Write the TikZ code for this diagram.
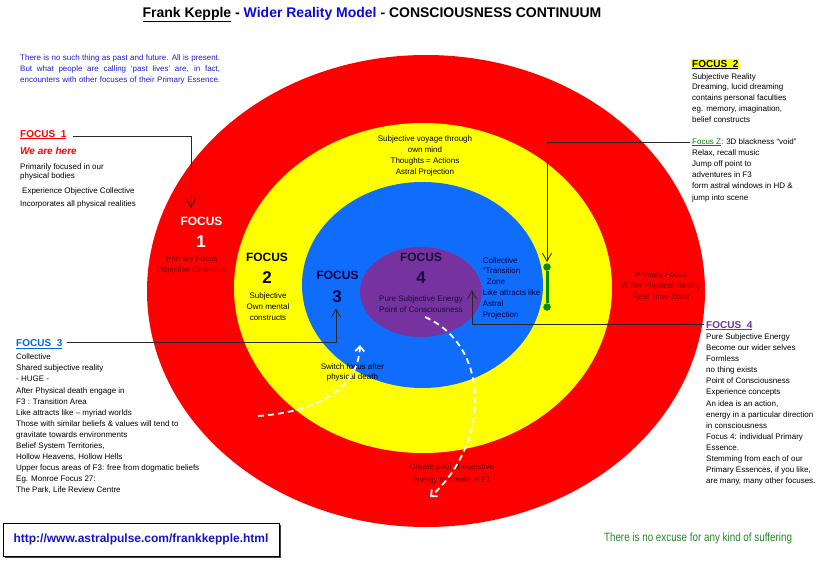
\documentclass[tikz,border=0pt]{standalone}
\usepackage{fontspec}
\setmainfont{Liberation Sans}
\newfontfamily\narrowfont[FakeStretch=0.82]{Liberation Sans}
\usetikzlibrary{arrows.meta,shadows}
\newcommand\fsz[2]{\fontsize{#1}{#2}\selectfont}
\definecolor{ringred}{RGB}{255,0,0}
\definecolor{ringyellow}{RGB}{255,255,0}
\definecolor{ringblue}{RGB}{16,108,250}
\definecolor{ringpurple}{RGB}{118,50,158}
\definecolor{titleblue}{RGB}{10,10,220}
\definecolor{parablue}{RGB}{30,30,210}
\definecolor{fthreeblue}{RGB}{0,102,221}
\definecolor{ffourpurple}{RGB}{112,48,160}
\definecolor{onred}{RGB}{115,0,0}
\definecolor{onblue}{RGB}{0,0,70}
\definecolor{onpurple}{RGB}{25,15,60}
\definecolor{fzgreen}{RGB}{0,128,0}
\definecolor{bargreen}{RGB}{0,140,0}
\definecolor{footgreen}{RGB}{34,139,34}
\definecolor{urlblue}{RGB}{20,20,200}
\definecolor{connc}{RGB}{40,40,40}
\tikzset{
  txt/.style={inner sep=0pt, font=\fsz{8}{11}, align=left, anchor=north west},
  ctr/.style={inner sep=0pt, font=\fsz{8}{11}, align=center, anchor=north},
  bigf/.style={inner sep=0pt, font=\fsz{12}{14}\bfseries, anchor=base},
  numf/.style={inner sep=0pt, font=\fsz{17}{19}\bfseries, anchor=base},
  labf/.style={inner sep=0pt, font=\fsz{10}{12}\bfseries, anchor=base west},
  conn/.style={draw=connc, line width=0.8pt},
  tipv/.style={-{Straight Barb[length=8pt,width=9pt]}},
  wdash/.style={draw=white, line width=1.8pt, dash pattern=on 6pt off 4pt,
     -{Straight Barb[length=5pt,width=9pt]}},
  gdot/.style={circle, fill=bargreen, minimum size=7.5pt, inner sep=0pt},
  gbar/.style={draw=bargreen, line width=3pt},
  urlbox/.style={draw=black, line width=0.6pt, fill=white, minimum width=276pt,
     minimum height=33pt, inner sep=0pt,
     drop shadow={shadow xshift=1.5pt, shadow yshift=-1.5pt, fill=black!75, opacity=1}}
}
\begin{document}
\begin{tikzpicture}[x=1pt,y=-1pt]
\useasboundingbox (0,0) rectangle (830,562);
\fill[white] (0,0) rectangle (830,562);
% rings
\fill[ringred] (426,291) ellipse [x radius=279pt, y radius=236pt];
\fill[ringyellow] (423,288) ellipse [x radius=189pt, y radius=165pt];
\fill[ringblue] (422.5,285) ellipse [x radius=120.5pt, y radius=103pt];
\fill[ringpurple] (421,292) ellipse [x radius=61pt, y radius=45pt];
% title
\node[inner sep=0pt, anchor=base, font=\fsz{14}{16}\bfseries] (title) at (372,17)
  {\underline{Frank Kepple} - \textcolor{titleblue}{Wider Reality Model} - CONSCIOUSNESS CONTINUUM};
% intro paragraph
\node[txt, text=parablue] (intro) at (20,55)
  {\makebox[200pt][s]{There is no such thing as past and future. All is present.}\\
   \makebox[200pt][s]{But what people are calling ‘past lives’ are, in fact,}\\
   \makebox[200pt][s]{encounters with other focuses of their Primary Essence.}};
% focus 1 side text
\node[labf, text=ringred] (f1lab) at (20,137) {\underline{FOCUS\ \ 1}};
\node[labf, font=\fsz{10}{12}\bfseries\itshape, text=ringred] (here) at (20,154) {We are here};
\node[txt, font=\fsz{8}{9}] (prim) at (20,164) {Primarily focused in our\\physical bodies};
\node[txt] (expo) at (22,188) {Experience Objective Collective};
\node[txt] (inco) at (20,201) {Incorporates all physical realities};
% focus 1 ring
\node[bigf, text=white] (f1a) at (201.5,225.5) {FOCUS};
\node[numf, text=white] (f1b) at (201,247) {1};
\node[ctr, text=onred] (f1c) at (192,256) {Primary Focus\\Objective Collective};
% focus 2 ring
\node[bigf] (f2a) at (267,261.5) {FOCUS};
\node[numf] (f2b) at (267,283) {2};
\node[ctr] (f2c) at (268,292) {Subjective\\Own mental\\constructs};
\node[ctr] (voy) at (425,136) {Subjective voyage through\\own mind\\Thoughts = Actions\\Astral Projection};
% focus 3 ring
\node[bigf, text=onblue] (f3a) at (337.5,279.5) {FOCUS};
\node[numf, text=onblue] (f3b) at (337,302) {3};
\node[txt, font=\fsz{8}{10.8}, text=onblue] (trans) at (482.7,257)
  {Collective\\“Transition\\\hspace*{4pt}Zone\\Like attracts like\\Astral\\Projection};
% focus 4 ring
\node[bigf, text=onpurple] (f4a) at (421,261.5) {FOCUS};
\node[numf, text=onpurple] (f4b) at (421,283) {4};
\node[ctr, text=onpurple] (f4c) at (421,295.3) {Pure Subjective Energy\\Point of Consciousness};
% red ring right
\node[ctr, text=onred] (wider) at (661,271) {Primary Focus\\Wider Physical Reality\\Real Time Zone};
% focus 2 block
\node[labf, fill=ringyellow, inner sep=1pt] (f2lab) at (691,67) {\underline{FOCUS\ \ 2}};
\node[txt] (subr) at (692,74) {Subjective Reality};
\node[txt] (dream) at (692,83.3) {Dreaming, lucid dreaming\\contains personal faculties\\eg. memory, imagination,\\belief constructs};
% focus Z block
\node[inner sep=0pt, anchor=base west, font=\fsz{8}{11}] (fzlab) at (692,144)
  {\textcolor{fzgreen}{\underline{Focus Z}}: 3D blackness “void”};
\node[txt, font=\fsz{8}{11.1}] (fztxt) at (692,149.7)
  {Relax, recall music\\Jump off point to\\adventures in F3\\form astral windows in HD \&\\jump into scene};
% focus 4 block
\node[labf, text=ffourpurple] (f4lab) at (706,328) {\underline{FOCUS\ \ 4}};
\node[txt, font=\fsz{8}{11.05}] (f4txt) at (706,333.7)
  {Pure Subjective Energy\\Become our wider selves\\Formless\\no thing exists\\Point of Consciousness\\Experience concepts\\An idea is an action,\\energy in a particular direction\\in consciousness\\Focus 4: individual Primary\\Essence.\\Stemming from each of our\\Primary Essences, if you like,\\are many, many other focuses.};
% focus 3 block
\node[labf, text=fthreeblue] (f3lab) at (16,346.3) {\underline{FOCUS\ \ 3}};
\node[txt, font=\fsz{8}{11.1}] (f3txt) at (16,353.7)
  {Collective\\Shared subjective reality\\- HUGE -\\After Physical death engage in\\F3 : Transition Area\\Like attracts like – myriad worlds\\Those with similar beliefs \& values will tend to\\gravitate towards environments\\Belief System Territories,\\Hollow Heavens, Hollow Hells\\Upper focus areas of F3: free from dogmatic beliefs\\Eg. Monroe Focus 27:\\The Park, Life Review Centre};
% inner captions
\node[ctr, font=\fsz{8}{10}] (switch) at (352.4,363.7) {Switch focus after\\physical death};
\node[ctr, font=\fsz{8}{13}, text=onred] (pool) at (452,463) {Create pool of objective\\energy to create in F1};
% connectors
\coordinate (f1tip) at (191,208);
\coordinate (fztip) at (547,262);
\coordinate (f4tip) at (472,290);
\coordinate (f3tip) at (336,308.3);
\draw[conn,tipv] ([xshift=6pt,yshift=-1.4pt]f1lab.east) -| (f1tip);
\draw[conn,tipv] ([xshift=-2pt]fzlab.west) -| (fztip);
\draw[conn,tipv] ([xshift=-2pt,yshift=1.6pt]f4lab.west) -| (f4tip);
\draw[conn,tipv] ([xshift=4pt,yshift=1.9pt]f3lab.east) -| (f3tip);
% green bar
\node[gdot] (gtop) at (547,267) {};
\node[gdot] (gbot) at (547,307) {};
\draw[gbar] (gtop) -- (gbot);
% white dashed arrows
\coordinate (w1s) at (258,416);
\coordinate (w1e) at (360,345);
\coordinate (w2s) at (425,317);
\coordinate (w2e) at (430,497);
\draw[wdash] (w1s) .. controls (315,412) and (358,390) .. (w1e);
\draw[wdash] (w2s) .. controls (455,330) and (475,360) .. (475,400)
   .. controls (475,440) and (455,475) .. (w2e);
% footer
\node[urlbox] (url) at (141,539.5)
  {\fsz{12}{14}\bfseries\color{urlblue}http://www.astralpulse.com/frankkepple.html};
\node[inner sep=0pt, font=\narrowfont\fsz{12}{14}, text=footgreen] (excuse) at (698,538)
  {There is no excuse for any kind of suffering};
\end{tikzpicture}
\end{document}
